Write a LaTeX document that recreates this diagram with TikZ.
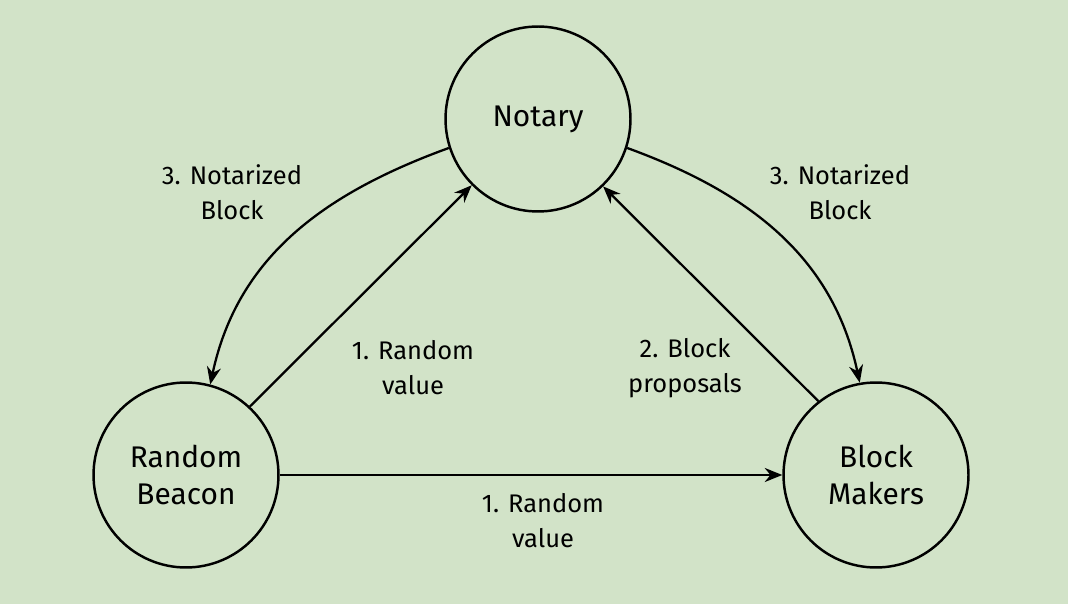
\documentclass[tikz,border=0pt]{standalone}
\usepackage{fontspec}
\setmainfont{Fira Sans}
\usetikzlibrary{arrows.meta}
\definecolor{bg}{HTML}{D2E3C8}
\begin{document}
\begin{tikzpicture}[x=0.02cm,y=-0.02cm,
  st/.style={circle,draw,line width=1.4pt,minimum size=3.7cm,inner sep=0pt,align=center,font=\fontsize{17}{21}\selectfont},
  lb/.style={align=center,font=\fontsize{14.5}{20}\selectfont},
  ar/.style={line width=1.3pt,-{Stealth[length=10pt,width=8pt]}}]
\fill[bg] (0,0) rectangle (1068,604);
\useasboundingbox (0,0) rectangle (1068,604);
\node[st] (n) at (538,119) {Notary};
\node[st] (b) at (186,475) {Random\\Beacon};
\node[st] (m) at (876,475) {Block\\Makers};
\draw[ar] (b.47) -- (n.225);
\draw[ar] (m.128) -- (n.314);
\draw[ar] (b.east) -- (m.west);
\draw[ar] (n.198) to[out=200,in=78] (b.75);
\draw[ar] (n.342) to[out=-20,in=102] (m.100);
\node[lb] (l1) at (232,192) {3. Notarized\\Block};
\node[lb] (l2) at (840,192) {3. Notarized\\Block};
\node[lb] (l3) at (413,368) {1. Random\\value};
\node[lb] (l4) at (685,368) {2. Block\\proposals};
\node[lb] (l5) at (543,521) {1. Random\\value};
\end{tikzpicture}
\end{document}
